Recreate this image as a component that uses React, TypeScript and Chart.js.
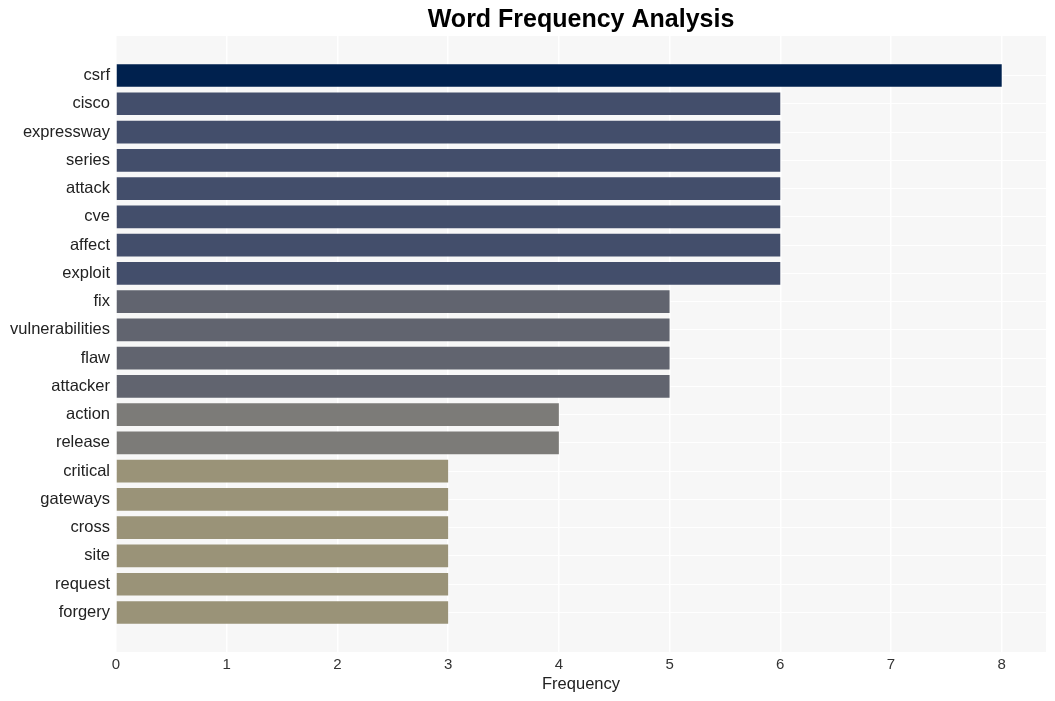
import React, { useEffect, useRef } from "react";
import { Chart, registerables } from "chart.js";

Chart.register(...registerables);

const words = [
  "csrf", "cisco", "expressway", "series", "attack", "cve", "affect", "exploit",
  "fix", "vulnerabilities", "flaw", "attacker", "action", "release", "critical",
  "gateways", "cross", "site", "request", "forgery",
];
const counts = [8, 6, 6, 6, 6, 6, 6, 6, 5, 5, 5, 5, 4, 4, 3, 3, 3, 3, 3, 3];
const colorByCount: Record<number, string> = {
  8: "#00214e",
  6: "#434e6b",
  5: "#61646f",
  4: "#7c7b78",
  3: "#9a9378",
};
const xTicks = [0, 1, 2, 3, 4, 5, 6, 7, 8];
const chartTitle = "Word Frequency Analysis";

const FONT = "'Liberation Sans', Arial, Helvetica, sans-serif";

const bgPlugin = {
  id: "plotBg",
  beforeDraw(chart: any) {
    const { ctx, chartArea } = chart;
    ctx.save();
    ctx.fillStyle = "#f7f7f7";
    ctx.fillRect(chartArea.left, chartArea.top, chartArea.right - chartArea.left, chartArea.bottom - chartArea.top);
    ctx.restore();
  },
  afterDraw(chart: any) {
    const { ctx, chartArea } = chart;
    ctx.save();
    ctx.fillStyle = "#000";
    ctx.font = `bold 25px ${FONT}`;
    ctx.textAlign = "center";
    ctx.textBaseline = "middle";
    ctx.fillText(chartTitle, (chartArea.left + chartArea.right) / 2, 20);
    ctx.restore();
  },
};

export default function App() {
  const ref = useRef<HTMLCanvasElement | null>(null);
  useEffect(() => {
    if (!ref.current) return;
    const chart = new Chart(ref.current, {
      type: "bar",
      data: {
        datasets: [
          {
            data: counts.map((v, i) => ({ x: v, y: i })),
            backgroundColor: counts.map((v) => colorByCount[v]),
            barPercentage: 0.8,
            categoryPercentage: 1,
            borderWidth: 0,
          },
        ],
      },
      plugins: [bgPlugin],
      options: {
        indexAxis: "y",
        responsive: false,
        animation: false,
        layout: { padding: { left: 0, right: 9, top: 36, bottom: 0 } },
        plugins: {
          legend: { display: false },
          tooltip: { enabled: false },
          title: { display: false },
        },
        scales: {
          x: {
            type: "linear",
            min: 0,
            max: 8.4,
            border: { display: false },
            grid: { color: "#ffffff", lineWidth: 1.5, drawTicks: false },
            ticks: {
              stepSize: 1,
              includeBounds: false,
              color: "#333",
              padding: 4,
              font: { family: FONT, size: 15 },
              callback: (v: any) => (xTicks.includes(Number(v)) ? String(v) : ""),
            },
            title: {
              display: true,
              text: "Frequency",
              color: "#222",
              font: { family: FONT, size: 16.5 },
              padding: { top: 0, bottom: 7 },
            },
            afterFit: (s: any) => {
              s.height = 49;
            },
          },
          y: {
            type: "linear",
            reverse: true,
            offset: false,
            min: -1.4,
            max: 20.4,
            border: { display: false },
            grid: {
              drawTicks: false,
              offset: false,
              lineWidth: 1,
              color: (c: any) => {
                const v = c.tick ? c.tick.value : -99;
                return v >= 0 && v < words.length && Number.isInteger(v) ? "#ffffff" : "rgba(0,0,0,0)";
              },
            },
            ticks: {
              stepSize: 1,
              includeBounds: false,
              autoSkip: false,
              color: "#222",
              padding: 6,
              font: { family: FONT, size: 16.5 },
              callback: (v: any) => {
                const n = Number(v);
                return Number.isInteger(n) && n >= 0 && n < words.length ? words[n] : "";
              },
            },
            afterFit: (s: any) => {
              s.width = 116;
            },
          },
        },
      } as any,
    });
    return () => chart.destroy();
  }, []);
  return (
    <div style={{ position: "fixed", left: 0, top: 0, width: 1055, height: 701, background: "#fff" }}>
      <canvas ref={ref} width={1055} height={701} />
    </div>
  );
}
